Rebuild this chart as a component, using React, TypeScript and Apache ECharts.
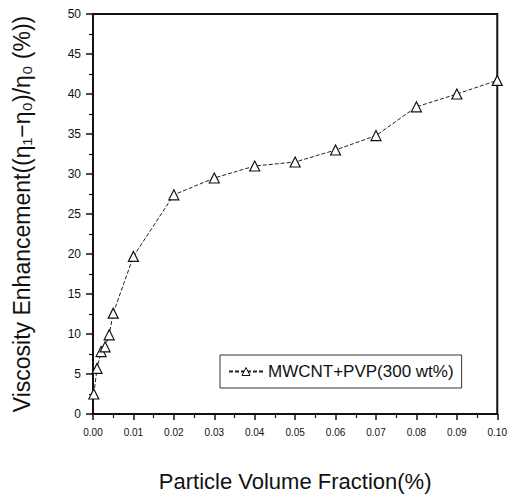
import React, { useEffect, useRef } from "react";
import * as echarts from "echarts";

const xValues = [0.0002, 0.001, 0.002, 0.003, 0.004, 0.005, 0.01, 0.02, 0.03, 0.04, 0.05, 0.06, 0.07, 0.08, 0.09, 0.1];
const yValues = [2.5, 5.7, 7.8, 8.4, 9.9, 12.6, 19.7, 27.4, 29.5, 31.0, 31.5, 33.0, 34.8, 38.4, 40.0, 41.7];
const seriesName = "MWCNT+PVP(300 wt%)";
const xTitle = "Particle Volume Fraction(%)";
const yTitle = "Viscosity Enhancement((η₁−η₀)/η₀ (%))";

const FONT = "'Liberation Sans', Arial, sans-serif";

export default function App() {
  const ref = useRef<HTMLDivElement>(null);
  useEffect(() => {
    if (!ref.current) return;
    const chart = echarts.init(ref.current, undefined, { renderer: "svg" });
    const data = xValues.map((x, i) => [x, yValues[i]]);
    chart.setOption({
      animation: false,
      backgroundColor: "#fff",
      grid: {
        left: 93,
        right: 8,
        top: 14,
        bottom: 79,
        show: true,
        borderColor: "#111",
        borderWidth: 2,
        containLabel: false,
      },
      legend: {
        left: 220,
        top: 355,
        orient: "horizontal",
        borderColor: "#333",
        borderWidth: 1,
        padding: [8, 8, 8, 8],
        itemWidth: 34,
        itemHeight: 10,
        itemStyle: { color: "#fff", borderColor: "#111", borderWidth: 1 },
        textStyle: { fontFamily: FONT, fontSize: 17, color: "#111" },
        data: [seriesName],
      },
      xAxis: {
        type: "value",
        min: 0,
        max: 0.1,
        interval: 0.01,
        name: xTitle,
        nameLocation: "middle",
        nameGap: 56,
        nameTextStyle: { fontFamily: FONT, fontSize: 22, color: "#111" },
        axisLine: { show: true, lineStyle: { color: "#111", width: 2 } },
        axisTick: { show: true, inside: false, length: 6, lineStyle: { color: "#111", width: 1.5 } },
        minorTick: { show: true, splitNumber: 2, length: 4, lineStyle: { color: "#111", width: 1.2 } },
        splitLine: { show: false },
        axisLabel: {
          margin: 13,
          fontFamily: FONT,
          fontSize: 10,
          color: "#111",
          formatter: (v: number) => v.toFixed(2),
        },
      },
      yAxis: {
        type: "value",
        min: 0,
        max: 50,
        interval: 5,
        name: yTitle,
        nameLocation: "middle",
        nameGap: 60,
        nameTextStyle: { fontFamily: FONT, fontSize: 23, color: "#111" },
        axisLine: { show: true, lineStyle: { color: "#111", width: 2 } },
        axisTick: { show: true, inside: false, length: 7, lineStyle: { color: "#111", width: 1.5 } },
        minorTick: { show: true, splitNumber: 2, length: 4, lineStyle: { color: "#111", width: 1.2 } },
        splitLine: { show: false },
        axisLabel: { margin: 12, fontFamily: FONT, fontSize: 12, color: "#111" },
      },
      series: [
        {
          name: seriesName,
          type: "line",
          data,
          symbol: "triangle",
          symbolSize: 10,
          itemStyle: { color: "#fff", borderColor: "#111", borderWidth: 1.2 },
          lineStyle: { color: "#222", width: 1, type: [4, 2] },
        },
      ],
    });
    return () => chart.dispose();
  }, []);
  return <div ref={ref} style={{ width: 510, height: 497, position: "absolute", left: 0, top: 0 }} />;
}
